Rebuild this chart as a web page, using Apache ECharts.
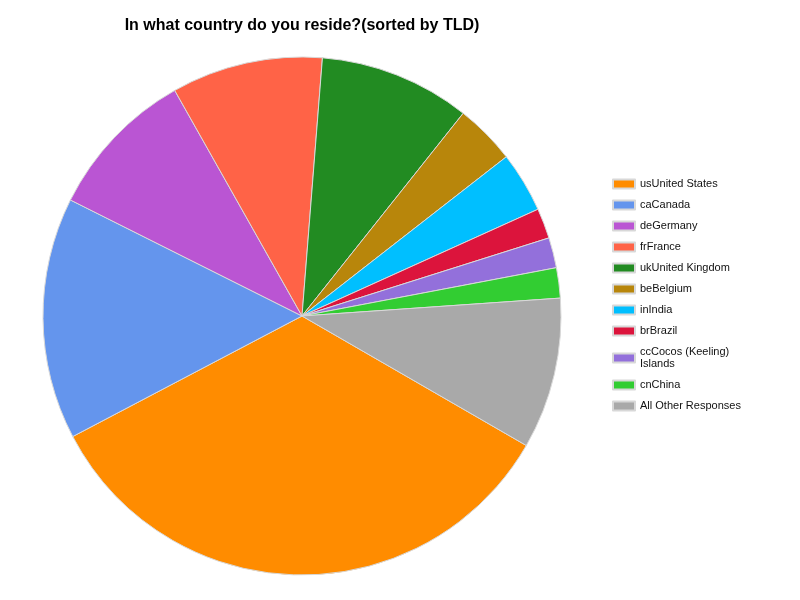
<!DOCTYPE html>
<html><head><meta charset="utf-8">
<script src="https://cdn.jsdelivr.net/npm/echarts@6/dist/echarts.min.js"></script>
<style>html,body{margin:0;padding:0;background:#fff}#c{width:800px;height:600px}</style>
</head><body><div id="c"></div>
<script>
const categories = ["usUnited States","caCanada","deGermany","frFrance","ukUnited Kingdom","beBelgium","inIndia","brBrazil","ccCocos (Keeling)\nIslands","cnChina","All Other Responses"];
const values = [18, 8, 5, 5, 5, 2, 2, 1, 1, 1, 5];
const colors = ["#FF8C00","#6495ED","#BA55D3","#FF6347","#228B22","#B8860B","#00BFFF","#DC143C","#9370DB","#32CD32","#A9A9A9"];
const titleText = "In what country do you reside?(sorted by TLD)";

const chart = echarts.init(document.getElementById('c'));
chart.setOption({
  animation: false,
  title: {
    text: titleText, left: 302, top: 18, textAlign: 'center', padding: 0,
    textStyle: {fontFamily: 'Liberation Sans, Arial, sans-serif', fontSize: 16, fontWeight: 'bold', color: '#000'}
  },
  color: colors,
  legend: {
    orient: 'vertical', left: 612, top: 178, padding: 0,
    itemWidth: 22, itemHeight: 9, itemGap: 9,
    icon: 'rect',
    textStyle: {fontFamily: 'Liberation Sans, Arial, sans-serif', fontSize: 11, color: '#111', lineHeight: 12},
    data: categories
  },
  series: [{
    type: 'pie',
    center: [302, 316], radius: 259,
    startAngle: -30, clockwise: true,
    label: {show: false}, labelLine: {show: false},
    emphasis: {disabled: true},
    itemStyle: {borderColor: '#d8d8d8', borderWidth: 1},
    data: categories.map((c, i) => ({name: c, value: values[i]}))
  }]
});
</script></body></html>
